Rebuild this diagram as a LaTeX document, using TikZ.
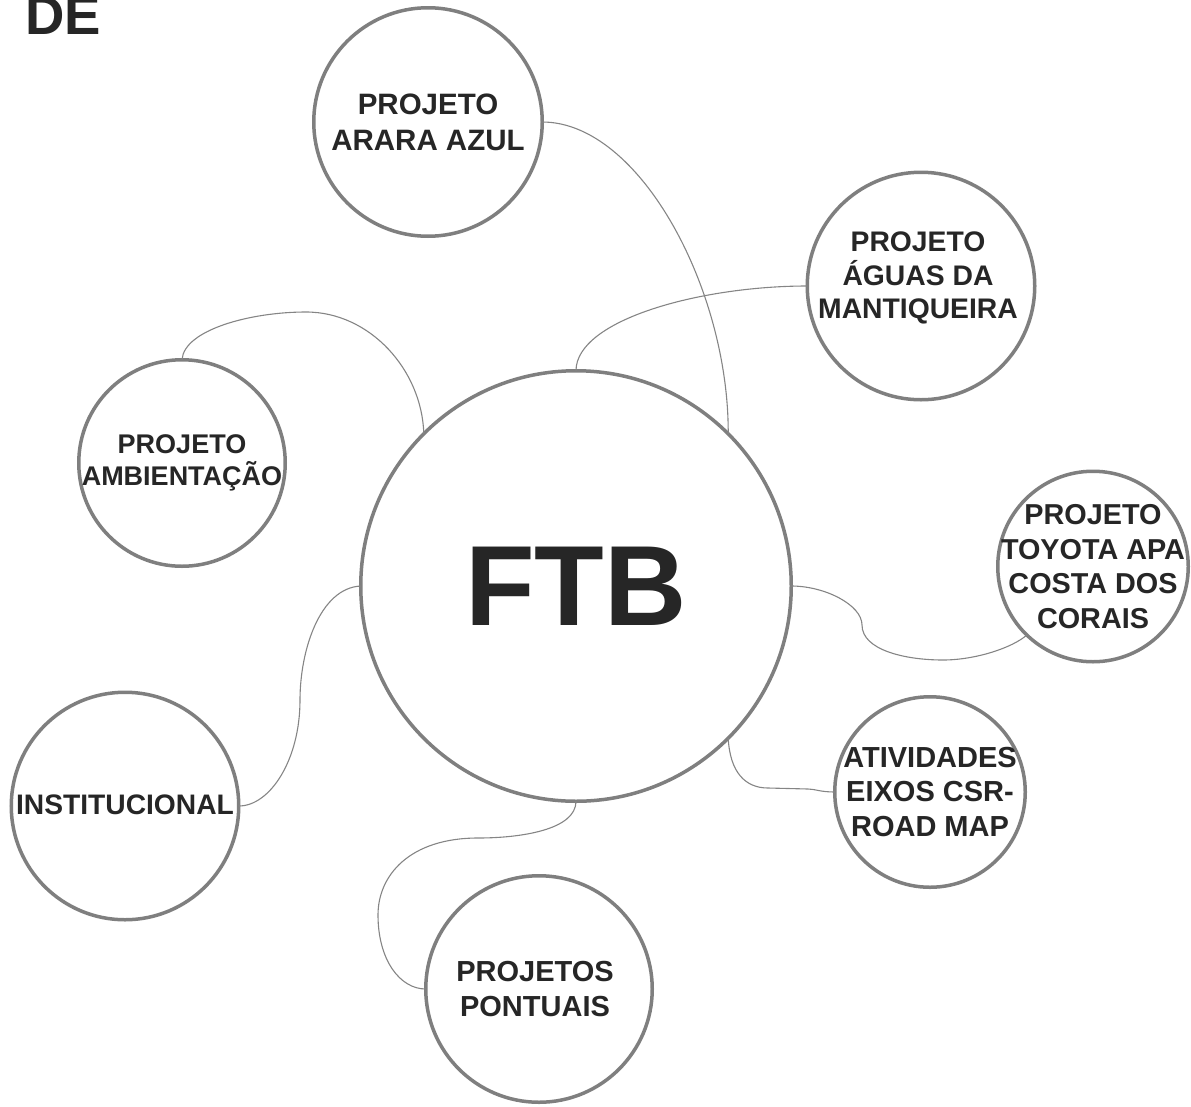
\documentclass[tikz,border=0pt]{standalone}
\usepackage{fontspec}
\setmainfont{Liberation Sans}
\definecolor{txt}{HTML}{262626}
\definecolor{ring}{HTML}{7F7F7F}
\definecolor{wire}{HTML}{858585}
\newcommand\lfont[2]{\fontsize{#1}{#2}\selectfont\bfseries}
\tikzset{
  sat/.style={circle, draw=ring, line width=3.5pt, fill=white, inner sep=0pt, outer sep=0pt},
  lbl/.style={text=txt, align=center, inner sep=0pt},
  link/.style={draw=wire, line width=1.1pt}
}
\begin{document}
\begin{tikzpicture}[x=1pt,y=-1pt]
\useasboundingbox (0,0) rectangle (1191,1106);

% title fragment
\node[text=txt, inner sep=0pt, anchor=base west, font=\lfont{54.5}{60}] (title) at (25.3,34.5) {DE};

% central node
\node[sat, minimum size=430.5pt, text=txt, font=\lfont{114}{130}] (ftb) at (576,586) {FTB};

% satellites
\node[sat, minimum size=228.5pt,
  label={[lbl, font=\lfont{29.5}{36}]center:PROJETO\\ARARA AZUL}] (ara) at (428,122) {};
\node[sat, minimum size=227.5pt,
  label={[lbl, font=\lfont{28.3}{33.5}, yshift=8pt, xshift=-3pt]center:PROJETO\\ÁGUAS DA\\MANTIQUEIRA}] (agu) at (921,286) {};
\node[sat, minimum size=206.5pt,
  label={[lbl, font=\lfont{27}{32}]center:PROJETO\\AMBIENTAÇÃO}] (amb) at (182,463) {};
\node[sat, minimum size=190.5pt,
  label={[lbl, font=\lfont{28.8}{34.7}]center:PROJETO\\TOYOTA APA\\COSTA DOS\\CORAIS}] (toy) at (1093,566.5) {};
\node[sat, minimum size=190.5pt,
  label={[lbl, font=\lfont{29}{34.5}]center:ATIVIDADES\\EIXOS CSR-\\ROAD MAP}] (ati) at (930,792) {};
\node[sat, minimum size=227.5pt,
  label={[lbl, font=\lfont{28.2}{34}, yshift=1.5pt]center:INSTITUCIONAL}] (ins) at (125,806) {};
\node[sat, minimum size=226.5pt,
  label={[lbl, font=\lfont{29}{34.6}, xshift=-4pt]center:PROJETOS\\PONTUAIS}] (pon) at (539,989) {};

% waypoints of the connectors
\coordinate (c3) at (306,312);
\coordinate (c4) at (300,700);
\coordinate (c5a) at (478,838);
\coordinate (c5b) at (378,915);
\coordinate (c6a) at (862,625);
\coordinate (c6b) at (943,660);
\coordinate (c7a) at (768,788);
\coordinate (c7b) at (808,789);

% connectors
\draw[link] (ara.east) .. controls (640,122) and (729,290) .. (ftb.45);
\draw[link] (ftb.north) .. controls (576,320) and (700,286) .. (agu.west);
\draw[link] (amb.north) .. controls (184,330) and (250,312) .. (c3)
            .. controls (370,312) and (422,370) .. (ftb.135);
\draw[link] (ftb.west) .. controls (320,588) and (300,650) .. (c4)
            .. controls (300,760) and (270,806) .. (ins.east);
\draw[link] (ftb.south) .. controls (576,830) and (520,838) .. (c5a)
            .. controls (410,838) and (378,875) .. (c5b)
            .. controls (378,960) and (400,989) .. (pon.west);
\draw[link] (ftb.east) .. controls (825,586) and (862,605) .. (c6a)
            .. controls (862,650) and (905,660) .. (c6b)
            .. controls (975,660) and (1012,648) .. (toy.226);
\draw[link] (ftb.-45) .. controls (730,772) and (745,788) .. (c7a)
            -- (c7b) .. controls (815,789) and (820,792) .. (ati.west);
\end{tikzpicture}
\end{document}
